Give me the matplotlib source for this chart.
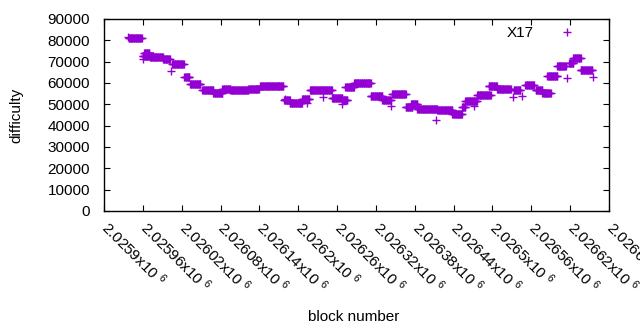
import numpy as np
import matplotlib.pyplot as plt
import matplotlib.transforms as mtransforms

plt.rcParams['font.family'] = ['Liberation Sans', 'DejaVu Sans']
plt.rcParams['mathtext.default'] = 'regular'

# runs of blocks sharing one difficulty value: first block, last block, difficulty
run_start = [2025937, 2025938, 2025960, 2025960, 2025962, 2025967, 2025971, 2025991,
             2026003, 2026005, 2026024, 2026033, 2026052, 2026069, 2026083, 2026095,
             2026123, 2026141, 2026180, 2026178, 2026187, 2026206, 2026214, 2026218,
             2026239, 2026252, 2026268, 2026268, 2026273, 2026286, 2026312, 2026330,
             2026344, 2026345, 2026366, 2026374, 2026384, 2026413, 2026415, 2026438,
             2026453, 2026458, 2026471, 2026476, 2026494, 2026507, 2026531, 2026533,
             2026546, 2026551, 2026567, 2026577, 2026585, 2026600, 2026615, 2026618,
             2026625, 2026636, 2026656]
run_end = [2025937, 2025958, 2025960, 2025967, 2025970, 2025976, 2025991, 2026002,
           2026003, 2026023, 2026032, 2026049, 2026069, 2026083, 2026095, 2026123,
           2026139, 2026177, 2026180, 2026187, 2026206, 2026217, 2026214, 2026252,
           2026239, 2026268, 2026276, 2026268, 2026286, 2026312, 2026330, 2026343,
           2026344, 2026366, 2026376, 2026384, 2026415, 2026413, 2026438, 2026453,
           2026458, 2026476, 2026471, 2026497, 2026507, 2026528, 2026531, 2026543,
           2026546, 2026564, 2026577, 2026590, 2026600, 2026613, 2026615, 2026625,
           2026636, 2026654, 2026656]
run_diff = [81700, 81000, 71100, 72650, 74200, 72650, 72000, 71100,
            65800, 68900, 63000, 59400, 56700, 55200, 57200, 56500,
            57200, 58600, 52500, 52000, 50750, 52350, 50750, 56700,
            53300, 52800, 52000, 50150, 57950, 59900, 54050, 52000,
            49200, 54700, 48600, 50000, 47650, 42650, 47350, 45300,
            48600, 51700, 49200, 54400, 58600, 57100, 53600, 56700,
            53900, 59050, 56700, 55200, 63300, 67950, 62200, 69200,
            71550, 66100, 63000]

block = np.concatenate([np.arange(s, e + 1) for s, e in zip(run_start, run_end)])
difficulty = np.concatenate([np.full(e - s + 1, d) for s, e, d in zip(run_start, run_end, run_diff)])

xticks = np.arange(2025900, 2026681, 60)
xlabels = [f'{v / 1e6:.6g}x10 ${{}}^{{6}}$' for v in xticks]

fig = plt.figure(figsize=(6.4, 3.3), dpi=100)
ax = fig.add_axes([104 / 640, 1 - 211 / 330, 505 / 640, 192 / 330])

ax.plot(block, difficulty, linestyle='none', marker='+', color='#9400d3',
        markersize=5.4, markeredgewidth=1.0, label='X17')

ax.set_xlim(2025900, 2026680)
ax.set_ylim(0, 90000)
ax.set_yticks(np.arange(0, 90001, 10000))
ax.set_xticks(xticks)
ax.set_xticklabels(xlabels, rotation=-45, ha='left', va='top', rotation_mode='anchor')
ax.tick_params(direction='in', top=True, right=True, length=4, width=0.8,
               labelsize=11, colors='black')
ax.tick_params(axis='y', pad=10)
ax.tick_params(axis='x', pad=5)
# nudge rotated labels so they start right at the tick, as gnuplot does
shift = mtransforms.ScaledTranslation(0.07, 0.0, fig.dpi_scale_trans)
for lab in ax.get_xticklabels():
    lab.set_transform(lab.get_transform() + shift)
for s in ax.spines.values():
    s.set_linewidth(1.0)

ax.set_xlabel('block number', fontsize=11)
ax.set_ylabel('difficulty', fontsize=11)
ax.xaxis.set_label_coords(0.495, -0.515)
ax.yaxis.set_label_coords(-0.160, 0.5)

ax.legend(loc='upper right', bbox_to_anchor=(0.977, 0.962), frameon=False,
          markerfirst=False, handlelength=4, handletextpad=0.2, borderpad=0,
          borderaxespad=0, fontsize=11)

fig.savefig('out.png', dpi=100)
